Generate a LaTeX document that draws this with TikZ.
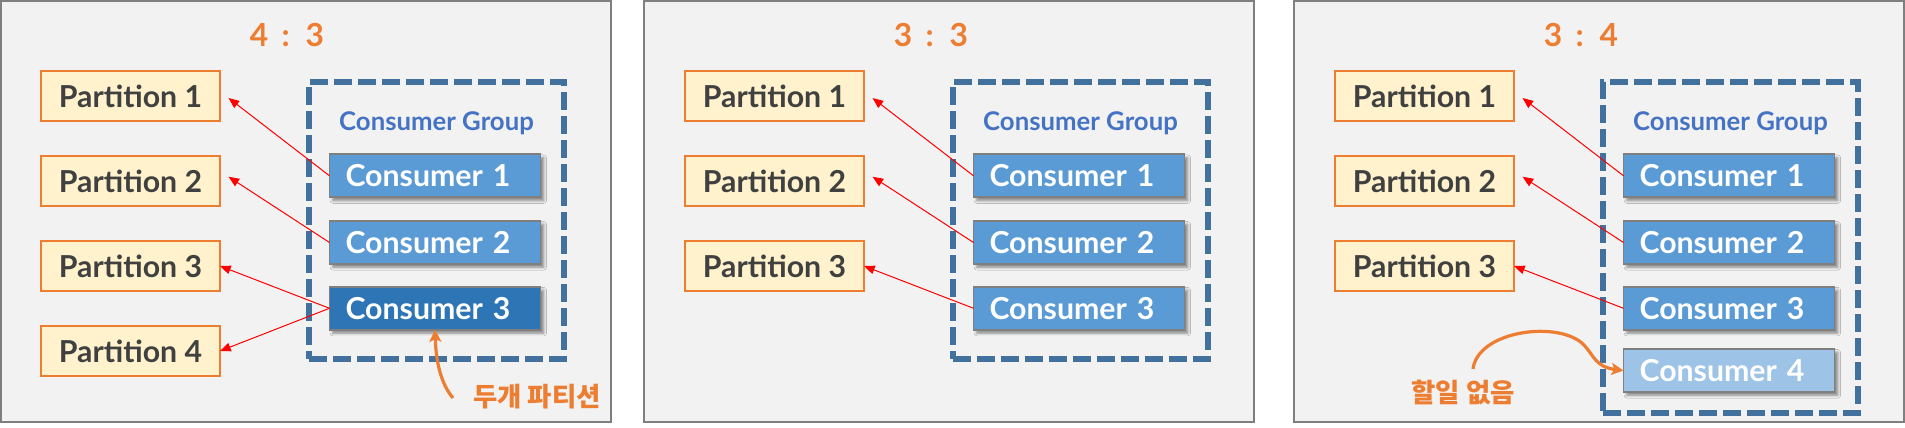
\documentclass[tikz,border=0pt]{standalone}
\usepackage{fontspec}
\setmainfont{Lato}
\newfontfamily\krfont{Noto Sans CJK KR}
\usetikzlibrary{arrows.meta,shadows.blur}
\definecolor{panelbg}{HTML}{F2F2F2}
\definecolor{panelln}{HTML}{7F7F7F}
\definecolor{partfill}{HTML}{FFF2CC}
\definecolor{orng}{HTML}{ED7D31}
\definecolor{consfill}{HTML}{5B9BD5}
\definecolor{consdark}{HTML}{2E75B6}
\definecolor{conslight}{HTML}{9DC3E6}
\definecolor{grpline}{HTML}{41719C}
\definecolor{grptext}{HTML}{4472C4}
\definecolor{parttext}{HTML}{404040}
\tikzset{
  panel/.style={fill=panelbg, draw=panelln, line width=1.5pt, inner sep=0pt, outer sep=0pt,
    minimum width=457.5pt, minimum height=315.75pt},
  partbox/.style={draw=orng, fill=partfill, line width=1.5pt, minimum width=134.25pt,
    minimum height=37.5pt, inner sep=0pt, outer sep=0pt, text=parttext,
    font={\fontsize{22.7}{27}\selectfont\bfseries}},
  consbox/.style={draw=panelln, fill=consfill, line width=1.3pt, text width=134.25pt,
    inner xsep=12pt, inner ysep=0pt, outer sep=0pt, minimum height=32.25pt, align=left,
    text=white, font={\fontsize{22.7}{27}\selectfont\bfseries},
    blur shadow={shadow xshift=2.5pt, shadow yshift=-2.5pt, shadow blur radius=2pt, shadow opacity=45}},
  grpbox/.style={draw=grpline, line width=4.5pt, dash pattern=on 13.5pt off 4.5pt,
    inner sep=0pt, outer sep=0pt, minimum width=191.25pt},
  grplabel/.style={text=grptext, font={\fontsize{19.3}{23}\selectfont\bfseries}, anchor=base, inner sep=0pt},
  ttl/.style={text=orng, font={\fontsize{23.8}{28}\selectfont\bfseries\spaceskip=0.42em\relax},
    anchor=base, inner sep=0pt},
  krnote/.style={text=orng, font={\krfont\bfseries\fontsize{19.8}{24}\selectfont}, inner sep=0pt},
  redarr/.style={draw=red, line width=0.75pt, -{Triangle[length=8pt,width=6.5pt]}},
  orarr/.style={draw=orng, line width=2.4pt, -{Stealth[length=9pt,width=9pt,inset=2pt]}},
}
\begin{document}
\begin{tikzpicture}[x=0.75pt,y=-0.75pt]
\fill[white] (0,0) rectangle (1905,428);
\useasboundingbox (0,0) rectangle (1905,428);

% ---------------- Panel 1 : 4 : 3 ----------------
\node[panel] (a-panel) at (306,211.5) {};
\node[ttl] (a-ttl) at (287,46.7) {4 : 3};
\node[partbox] (a-p1) at (130.5,96) {Partition 1};
\node[partbox] (a-p2) at (130.5,181) {Partition 2};
\node[partbox] (a-p3) at (130.5,266) {Partition 3};
\node[partbox] (a-p4) at (130.5,351) {Partition 4};
\node[grpbox, minimum height=207.4pt] (a-grp) at (436.5,220.25) {};
\node[grplabel] (a-lbl) at (436.5,130) {Consumer Group};
\node[consbox] (a-c1) at (435,175.8) {Consumer 1};
\node[consbox] (a-c2) at (435,242.5) {Consumer 2};
\node[consbox, fill=consdark] (a-c3) at (435,308.3) {Consumer 3};
\draw[redarr] (a-c1.west) -- ([xshift=6.4pt,yshift=-1.5pt]a-p1.east);
\draw[redarr] (a-c2.west) -- ([xshift=6.4pt,yshift=3.2pt]a-p2.east);
\draw[redarr] (a-c3.west) -- (a-p3.east);
\draw[redarr] (a-c3.west) -- (a-p4.east);
\node[krnote] (a-note) at (537,396.5) {두개 파티션};
\coordinate (a-tail) at (453,398);
\draw[orarr] (a-tail) .. controls (441,384) and (436,362) .. (a-c3.south);

% ---------------- Panel 2 : 3 : 3 ----------------
\begin{scope}[shift={(644,0)}]
\node[panel] (b-panel) at (305,211.5) {};
\node[ttl] (b-ttl) at (287,46.7) {3 : 3};
\node[partbox] (b-p1) at (130.5,96) {Partition 1};
\node[partbox] (b-p2) at (130.5,181) {Partition 2};
\node[partbox] (b-p3) at (130.5,266) {Partition 3};
\node[grpbox, minimum height=207.4pt] (b-grp) at (436.5,220.25) {};
\node[grplabel] (b-lbl) at (436.5,130) {Consumer Group};
\node[consbox] (b-c1) at (435,175.8) {Consumer 1};
\node[consbox] (b-c2) at (435,242.5) {Consumer 2};
\node[consbox] (b-c3) at (435,308.3) {Consumer 3};
\draw[redarr] (b-c1.west) -- ([xshift=6.4pt,yshift=-1.5pt]b-p1.east);
\draw[redarr] (b-c2.west) -- ([xshift=6.4pt,yshift=3.2pt]b-p2.east);
\draw[redarr] (b-c3.west) -- (b-p3.east);
\end{scope}

% ---------------- Panel 3 : 3 : 4 ----------------
\begin{scope}[shift={(1294,0)}]
\node[panel] (c-panel) at (305,211.5) {};
\node[ttl] (c-ttl) at (287,46.7) {3 : 4};
\node[partbox] (c-p1) at (130.5,96) {Partition 1};
\node[partbox] (c-p2) at (130.5,181) {Partition 2};
\node[partbox] (c-p3) at (130.5,266) {Partition 3};
\node[grpbox, minimum height=247.9pt] (c-grp) at (436.5,247.25) {};
\node[grplabel] (c-lbl) at (436.5,130) {Consumer Group};
\node[consbox] (c-c1) at (435,175.8) {Consumer 1};
\node[consbox] (c-c2) at (435,242.5) {Consumer 2};
\node[consbox] (c-c3) at (435,308.3) {Consumer 3};
\node[consbox, fill=conslight] (c-c4) at (435,370.5) {Consumer 4};
\draw[redarr] (c-c1.west) -- ([xshift=6.4pt,yshift=-1.5pt]c-p1.east);
\draw[redarr] (c-c2.west) -- ([xshift=6.4pt,yshift=3.2pt]c-p2.east);
\draw[redarr] (c-c3.west) -- (c-p3.east);
\node[krnote] (c-note) at (169,392.5) {할일 없음};
\coordinate (c-tail) at (179,369);
\draw[orarr] (c-tail) .. controls (184,330) and (266,320) .. (290,345)
  .. controls (300,356) and (302,367) .. (c-c4.west);
\end{scope}
\end{tikzpicture}
\end{document}
